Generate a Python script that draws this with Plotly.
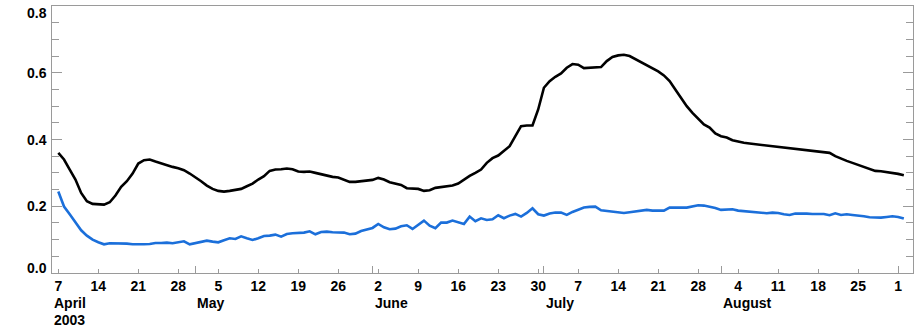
import pandas as pd
import plotly.graph_objects as go

# Daily series, 7 April 2003 through 2 September 2003
start_date = "2003-04-07"

black_series = [
    0.360, 0.340, 0.310, 0.280, 0.240, 0.215, 0.207, 0.205, 0.205, 0.212,
    0.232, 0.258, 0.275, 0.298, 0.328, 0.338, 0.340, 0.334, 0.328, 0.322,
    0.318, 0.314, 0.308, 0.298, 0.287, 0.275, 0.262, 0.252, 0.246, 0.244,
    0.246, 0.249, 0.252, 0.260, 0.268, 0.280, 0.290, 0.306, 0.310, 0.311,
    0.313, 0.311, 0.304, 0.303, 0.304, 0.300, 0.296, 0.290, 0.288, 0.286,
    0.279, 0.273, 0.273, 0.275, 0.278, 0.279, 0.285, 0.280, 0.272, 0.268,
    0.264, 0.254, 0.252, 0.252, 0.246, 0.248, 0.255, 0.258, 0.259, 0.262,
    0.268, 0.280, 0.291, 0.300, 0.310, 0.330, 0.344, 0.352, 0.365, 0.380,
    0.410, 0.440, 0.442, 0.442, 0.490, 0.555, 0.575, 0.588, 0.598, 0.615,
    0.626, 0.624, 0.614, 0.615, 0.616, 0.617, 0.635, 0.647, 0.652, 0.654,
    0.650, 0.641, 0.632, 0.624, 0.614, 0.604, 0.592, 0.575, 0.550, 0.525,
    0.500, 0.480, 0.462, 0.445, 0.436, 0.418, 0.410, 0.406, 0.398, 0.393,
    0.390, 0.388, 0.386, 0.383, 0.381, 0.379, 0.378, 0.376, 0.374, 0.373,
    0.371, 0.369, 0.367, 0.364, 0.362, 0.360, 0.350, 0.342, 0.336, 0.330,
    0.324, 0.316, 0.310, 0.306, 0.305, 0.303, 0.300, 0.297, 0.293,
]

blue_series = [
    0.244, 0.199, 0.176, 0.152, 0.128, 0.112, 0.100, 0.092, 0.086, 0.089,
    0.089, 0.089, 0.088, 0.086, 0.085, 0.086, 0.087, 0.090, 0.090, 0.091,
    0.089, 0.092, 0.095, 0.086, 0.089, 0.094, 0.097, 0.094, 0.092, 0.098,
    0.104, 0.102, 0.110, 0.104, 0.099, 0.104, 0.111, 0.112, 0.115, 0.109,
    0.117, 0.119, 0.120, 0.121, 0.125, 0.116, 0.123, 0.124, 0.122, 0.121,
    0.121, 0.116, 0.118, 0.126, 0.130, 0.135, 0.147, 0.137, 0.131, 0.133,
    0.140, 0.143, 0.132, 0.145, 0.157, 0.142, 0.134, 0.151, 0.151, 0.157,
    0.153, 0.147, 0.169, 0.155, 0.164, 0.159, 0.161, 0.173, 0.164, 0.172,
    0.177, 0.169, 0.180, 0.194, 0.176, 0.172, 0.178, 0.181, 0.181, 0.174,
    0.183, 0.190, 0.196, 0.198, 0.199, 0.188, 0.186, 0.186, 0.183, 0.180,
    0.182, 0.185, 0.186, 0.189, 0.187, 0.188, 0.187, 0.196, 0.197, 0.196,
    0.196, 0.200, 0.203, 0.202, 0.199, 0.195, 0.189, 0.190, 0.191, 0.187,
    0.185, 0.183, 0.183, 0.181, 0.179, 0.181, 0.180, 0.176, 0.174, 0.178,
    0.179, 0.178, 0.177, 0.178, 0.177, 0.173, 0.179, 0.174, 0.176, 0.174,
    0.173, 0.170, 0.167, 0.166, 0.166, 0.168, 0.170, 0.168, 0.163,
]

week_ticks = pd.date_range("2003-04-07", "2003-09-01", freq="7D")
week_labels = [str(d.day) for d in week_ticks]

month_label_dates = ["2003-04-05 22:00", "2003-05-01", "2003-06-01", "2003-07-01", "2003-08-01"]
month_names = ["April", "May", "June", "July", "August"]
year_label = "2003"

y_ticks = [0.0, 0.2, 0.4, 0.6, 0.8]
y_labels = ["0.0", "0.2", "0.4", "0.6", "0.8"]

x_range = ["2003-04-05 21:30", "2003-09-03 14:30"]
y_range = [0.0, 0.8]

dates = pd.date_range(start_date, periods=len(black_series), freq="D")

axis_grey = "#9a9a9a"
label_font = dict(family="Liberation Sans", size=14, color="black", weight="bold")

fig = go.Figure()
fig.add_trace(go.Scatter(x=dates, y=black_series, mode="lines",
                         line=dict(color="black", width=2.6), showlegend=False))
fig.add_trace(go.Scatter(x=dates, y=blue_series, mode="lines",
                         line=dict(color="#1b6fda", width=2.6), showlegend=False))

fig.update_layout(
    width=914, height=332,
    margin=dict(l=52, r=1, t=6, b=59),
    paper_bgcolor="white", plot_bgcolor="white",
    xaxis=dict(
        type="date", range=x_range,
        tickvals=week_ticks, ticktext=week_labels,
        ticks="inside", ticklen=4, tickwidth=1, tickcolor=axis_grey,
        minor=dict(dtick="M1", tick0="2003-01-01", ticks="inside",
                   ticklen=7, tickwidth=1, tickcolor=axis_grey, showgrid=False),
        showline=True, linecolor=axis_grey, linewidth=1, mirror=True,
        showgrid=False, zeroline=False, tickfont=label_font,
        ticklabelstandoff=0,
    ),
    yaxis=dict(
        range=y_range, tickvals=y_ticks, showticklabels=False,
        ticks="inside", ticklen=10, tickwidth=1, tickcolor=axis_grey,
        minor=dict(dtick=0.05, tick0=0, ticks="inside", ticklen=7,
                   tickwidth=1, tickcolor=axis_grey, showgrid=False),
        showline=True, linecolor=axis_grey, linewidth=1, mirror="ticks",
        showgrid=False, zeroline=False,
    ),
)

# y labels: the end labels sit slightly inside the frame
for val, txt in zip(y_ticks, y_labels):
    shift = 5 if val == y_range[0] else (-7 if val == y_range[1] else 0)
    fig.add_annotation(x=0, y=val, xref="paper", yref="y", text=txt,
                       showarrow=False, xanchor="right", yanchor="middle",
                       xshift=-3, yshift=shift, font=label_font)

for name, when in zip(month_names, month_label_dates):
    fig.add_annotation(x=when, y=0, xref="x", yref="paper", text=name,
                       showarrow=False, xanchor="left", yanchor="top",
                       yshift=-20, font=label_font)
fig.add_annotation(x=month_label_dates[0], y=0, xref="x", yref="paper",
                   text=year_label, showarrow=False, xanchor="left",
                   yanchor="top", yshift=-37, font=label_font)

fig.write_html("out.html")
